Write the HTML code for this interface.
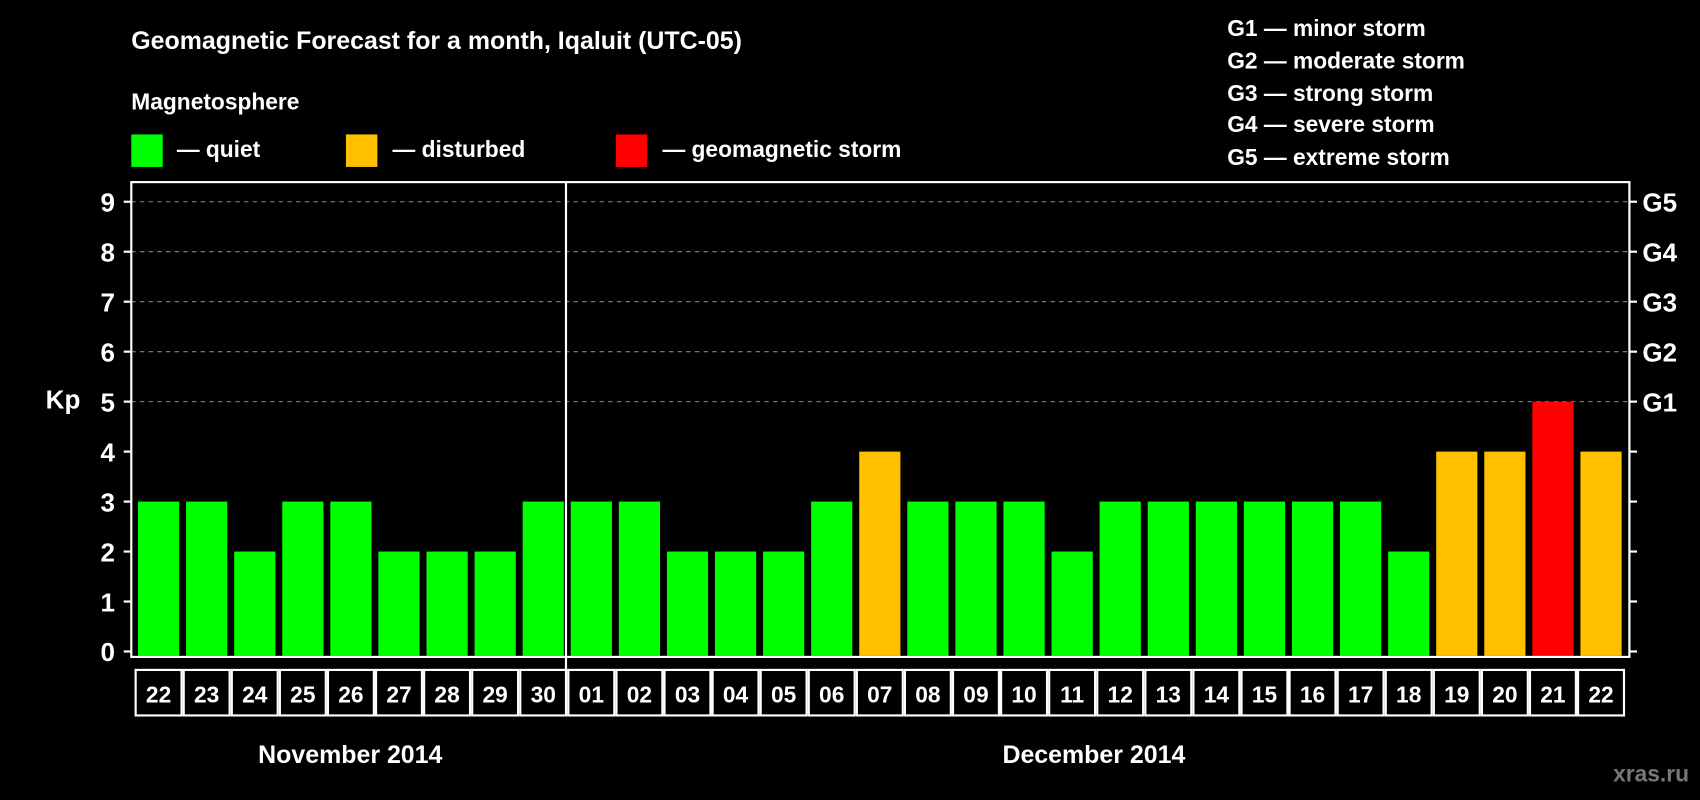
<!DOCTYPE html>
<html><head><meta charset="utf-8"><style>
html,body{margin:0;padding:0;background:#000;}
svg{display:block;font-family:"Liberation Sans",Arial,sans-serif;font-weight:bold;}
</style></head><body>
<svg id="chart" width="1700" height="800" viewBox="0 0 1568 738" xmlns="http://www.w3.org/2000/svg">
<rect width="1568" height="738" fill="#000"/>
<text x="121" y="45" fill="#fff" font-size="23">Geomagnetic Forecast for a month, Iqaluit (UTC-05)</text>
<text x="121" y="101" fill="#fff" font-size="21">Magnetosphere</text>
<rect x="121" y="124" width="29" height="30" fill="#00ff00"/>
<text x="163" y="145" fill="#fff" font-size="21">— quiet</text>
<rect x="319" y="124" width="29" height="30" fill="#ffc000"/>
<text x="362" y="145" fill="#fff" font-size="21">— disturbed</text>
<rect x="568" y="124" width="29" height="30" fill="#ff0000"/>
<text x="611" y="145" fill="#fff" font-size="21">— geomagnetic storm</text>
<g fill="#fff" font-size="21">
<text x="1132" y="33">G1 — minor storm</text>
<text x="1132" y="63">G2 — moderate storm</text>
<text x="1132" y="93">G3 — strong storm</text>
<text x="1132" y="122">G4 — severe storm</text>
<text x="1132" y="152">G5 — extreme storm</text>
</g>
<text x="58" y="377" fill="#fff" font-size="24" text-anchor="middle">Kp</text>
<g id="grid"></g>
<g id="bars"></g>
<rect x="121" y="168" width="1382" height="438" fill="none" stroke="#fff" stroke-width="2"/>
<line x1="522" y1="168" x2="522" y2="660" stroke="#fff" stroke-width="2"/>
<g id="dates"></g>
<text x="323" y="704" fill="#fff" font-size="23" text-anchor="middle">November 2014</text>
<text x="1009" y="704" fill="#fff" font-size="23" text-anchor="middle">December 2014</text>
<text x="1558" y="721" fill="#777" font-size="21" text-anchor="end">xras.ru</text>
</svg>
<script>
const days = ["22","23","24","25","26","27","28","29","30","01","02","03","04","05","06","07","08","09","10","11","12","13","14","15","16","17","18","19","20","21","22"];
const kpValues = [3,3,2,3,3,2,2,2,3,3,3,2,2,2,3,4,3,3,3,2,3,3,3,3,3,3,2,4,4,5,4];
const yTicks = [0,1,2,3,4,5,6,7,8,9];
const gLabels = ["","","","","","G1","G2","G3","G4","G5"];
const NS="http://www.w3.org/2000/svg";
const y = v => 601 - v*46.1;
const x0 = 124, step = (1499-124)/days.length;
const xc = i => x0 + step*(i+0.5);
function mk(tag, attrs, parent){const e=document.createElementNS(NS,tag);for(const k in attrs)e.setAttribute(k,attrs[k]);parent.appendChild(e);return e;}
const grid=document.getElementById('grid'), bars=document.getElementById('bars'), dates=document.getElementById('dates');
yTicks.forEach((t,i)=>{
  if(t>=5){const l=mk('line',{x1:121,x2:1503,y1:y(t),y2:y(t),stroke:'#888','stroke-dasharray':'4,4','stroke-width':1},grid);
    
    }
  const tl=mk('line',{x1:114,x2:121,y1:y(t),y2:y(t),stroke:'#fff','stroke-width':2},grid);
  
  
  const tr=mk('line',{x1:1503,x2:1510,y1:y(t),y2:y(t),stroke:'#fff','stroke-width':2},grid);
  
  
  const lb=mk('text',{x:106,y:y(t)+9,fill:'#fff','font-size':24,'text-anchor':'end'},grid);
  lb.textContent=t;
  
  
  if(gLabels[i]){const g=mk('text',{x:1515,y:y(t)+9,fill:'#fff','font-size':24},grid);
    g.textContent=gLabels[i];
    
    }
});
kpValues.forEach((v,i)=>{
  const c = v>=5?'#ff0000':(v>=4?'#ffc000':'#00ff00');
  const b=mk('rect',{x:xc(i)-19,y:y(v),width:38,height:y(0)+4-y(v),fill:c},bars);
  
  
  const cell=mk('rect',{x:x0+step*i+1,y:618,width:step-2,height:42,fill:'none',stroke:'#fff','stroke-width':2},dates);
  
  
  const t=mk('text',{x:xc(i),y:648,fill:'#fff','font-size':21,'text-anchor':'middle'},dates);
  t.textContent=days[i];
  
  
});
</script>
</body></html>
